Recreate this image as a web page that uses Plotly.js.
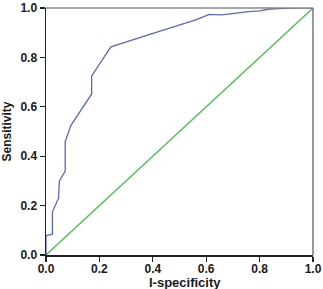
<!DOCTYPE html>
<html>
<head>
<meta charset="utf-8">
<script src="https://cdn.plot.ly/plotly-3.0.1.min.js"></script>
<style>html,body{margin:0;padding:0;background:#fff;}#chart{width:323px;height:289px;}</style>
</head>
<body>
<div id="chart"></div>
<script>
var fpr = [0, 0, 0.024, 0.024, 0.047, 0.05, 0.072, 0.072, 0.094, 0.171, 0.171, 0.243, 0.427, 0.558, 0.612, 0.658, 0.758, 0.80, 0.839, 0.92, 1.0];
var tpr = [0, 0.078, 0.084, 0.175, 0.23, 0.30, 0.34, 0.459, 0.526, 0.652, 0.725, 0.843, 0.906, 0.951, 0.974, 0.972, 0.985, 0.988, 0.996, 1.0, 1.0];
var refX = [0, 1];
var refY = [0, 1];
var tickVals = [0, 0.2, 0.4, 0.6, 0.8, 1.0];
var tickText = ["0.0", "0.2", "0.4", "0.6", "0.8", "1.0"];
var xTitle = "I-specificity";
var yTitle = "Sensitivity";

var font = {family: "Liberation Sans, Arial, sans-serif", size: 12, color: "#1a1a1a", weight: "bold"};

var traces = [
  {x: refX, y: refY, mode: "lines", line: {color: "#4cbf4c", width: 1.3}, cliponaxis: false, hoverinfo: "skip"},
  {x: fpr, y: tpr, mode: "lines", line: {color: "#5a68bd", width: 1.3}, cliponaxis: false, hoverinfo: "skip"}
];

var layout = {
  width: 323, height: 289,
  margin: {l: 46, r: 10, t: 8, b: 34},
  paper_bgcolor: "#fff", plot_bgcolor: "#fff",
  showlegend: false,
  font: font,
  xaxis: {
    range: [0, 1], showgrid: false, zeroline: false,
    showline: true, linecolor: "#222", linewidth: 1.5,
    ticks: "outside", ticklen: 5, tickwidth: 1.3, tickcolor: "#222",
    ticklabelstandoff: -3,
    tickvals: tickVals, ticktext: tickText, tickfont: font
  },
  yaxis: {
    range: [0, 1], showgrid: false, zeroline: false,
    showline: true, linecolor: "#222", linewidth: 1.5,
    ticks: "outside", ticklen: 5, tickwidth: 1.3, tickcolor: "#222",
    tickvals: tickVals, ticktext: tickText, tickfont: font,
    title: {text: yTitle, font: {family: font.family, size: 12, color: "#1a1a1a", weight: "bold"}, standoff: 6}
  },
  annotations: [
    {text: xTitle, xref: "paper", yref: "paper", x: 0.52, y: -27 / 247, xanchor: "center", yanchor: "middle",
     showarrow: false, font: {family: font.family, size: 13, color: "#1a1a1a", weight: "bold"}}
  ],
  shapes: [
    {type: "line", xref: "paper", yref: "paper", x0: 0, x1: 1, y0: 1, y1: 1, line: {color: "#888", width: 1.5}},
    {type: "line", xref: "paper", yref: "paper", x0: 1, x1: 1, y0: 0, y1: 1, line: {color: "#777", width: 1.5}}
  ]
};

Plotly.newPlot("chart", traces, layout, {displayModeBar: false, staticPlot: true});
</script>
</body>
</html>
